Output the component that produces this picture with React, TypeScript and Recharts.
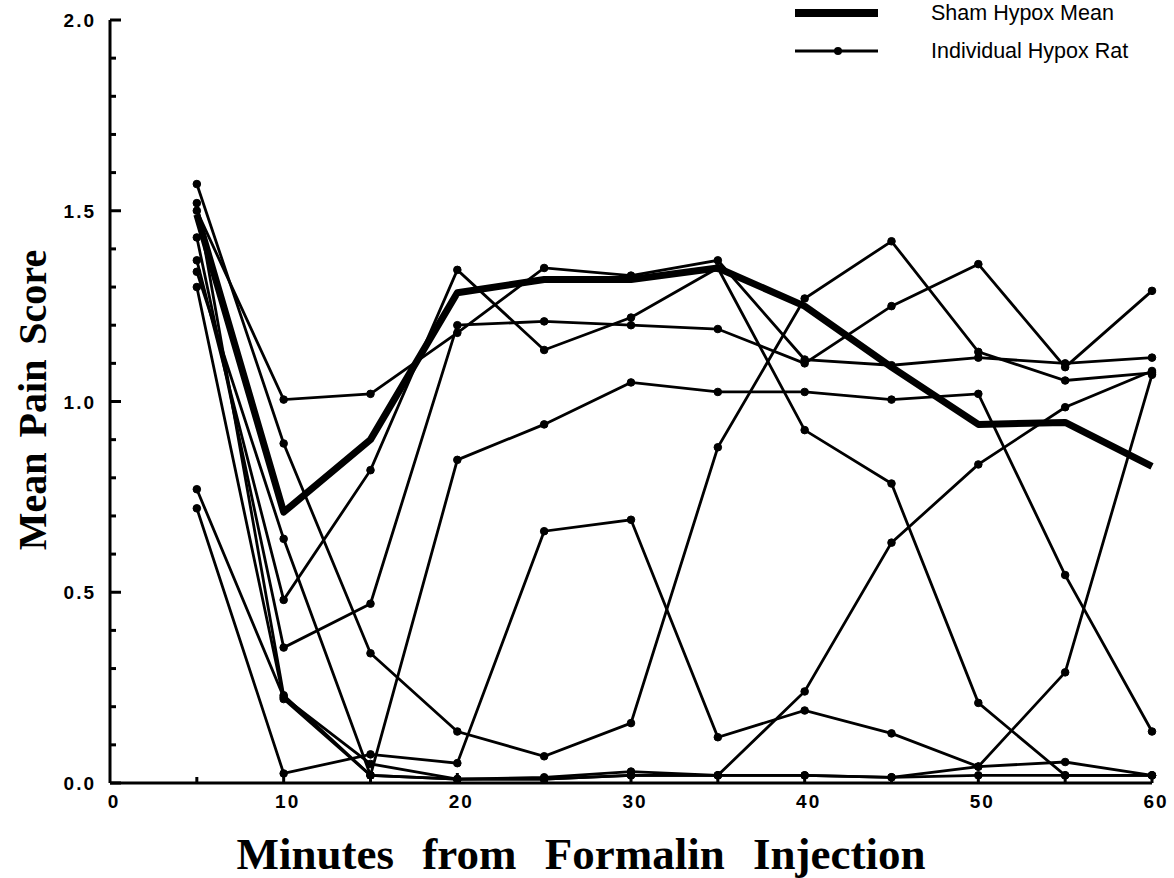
import { LineChart, Line, XAxis, YAxis, Legend } from 'recharts';

// minutes after formalin injection
const minutes = [5, 10, 15, 20, 25, 30, 35, 40, 45, 50, 55, 60];

const shamMean = [1.49, 0.71, 0.9, 1.285, 1.32, 1.32, 1.35, 1.25, 1.09, 0.94, 0.945, 0.83];

// individual hypox rats
const ratA = [1.5, 1.005, 1.02, 1.18, 1.35, 1.33, 1.37, 1.11, 1.095, 1.115, 1.1, 1.115];
const ratB = [1.57, 0.89, 0.34, 0.135, 0.07, 0.157, 0.88, 1.27, 1.42, 1.13, 1.055, 1.075];
const ratC = [1.37, 0.48, 0.82, 1.345, 1.135, 1.22, 1.35, 0.925, 0.785, 0.21, 0.02, 0.02];
const ratD = [1.43, 0.355, 0.47, 1.2, 1.21, 1.2, 1.19, 1.1, 1.25, 1.36, 1.09, 1.29];
const ratE = [1.34, 0.64, 0.02, 0.847, 0.94, 1.05, 1.025, 1.025, 1.005, 1.02, 0.545, 0.135];
const ratF = [0.77, 0.225, 0.05, 0.01, 0.01, 0.02, 0.02, 0.02, 0.015, 0.02, 0.02, 0.02];
const ratG = [0.72, 0.025, 0.075, 0.052, 0.66, 0.69, 0.12, 0.19, 0.13, 0.043, 0.055, 0.02];
const ratH = [1.52, 0.23, 0.02, 0.01, 0.015, 0.03, 0.02, 0.24, 0.63, 0.835, 0.985, 1.08];
const ratI = [1.3, 0.22, 0.02, 0.01, 0.01, 0.02, 0.02, 0.02, 0.015, 0.043, 0.29, 1.07];

const rats = [ratA, ratB, ratC, ratD, ratE, ratF, ratG, ratH, ratI];

const xTicks = [0, 5, 10, 15, 20, 25, 30, 35, 40, 45, 50, 55, 60];
const yTicks = [
  0, 0.1, 0.2, 0.3, 0.4, 0.5, 0.6, 0.7, 0.8, 0.9, 1.0, 1.1, 1.2, 1.3, 1.4, 1.5, 1.6, 1.7, 1.8, 1.9, 2.0,
];

const data = minutes.map((m, i) => {
  const row: Record<string, number> = { minute: m, mean: shamMean[i] };
  rats.forEach((r, k) => {
    row['rat' + k] = r[i];
  });
  return row;
});

const tickFont = {
  fontFamily: '"Liberation Sans", Arial, sans-serif',
  fontWeight: 700,
  fontSize: 19,
  letterSpacing: 2,
};

const YTick = (props: any) => {
  const { x, y, payload } = props;
  const v = payload.value;
  const major = Math.abs(v * 2 - Math.round(v * 2)) < 1e-6;
  const axisX = x + 14;
  return (
    <g>
      <line x1={axisX} x2={axisX + (major ? 11 : 6)} y1={y} y2={y} stroke="#000" strokeWidth={3} />
      {major && (
        <text x={x} y={y + 7} textAnchor="end" fill="#000" style={tickFont}>
          {v.toFixed(1)}
        </text>
      )}
    </g>
  );
};

const XTick = (props: any) => {
  const { x, y, payload } = props;
  const v = payload.value;
  const major = v % 10 === 0;
  return (
    <g>
      {v > 0 && <line x1={x} x2={x} y1={y} y2={y - (major ? 10 : 6)} stroke="#000" strokeWidth={3} />}
      {major && (
        <text x={x + 4} y={y + 25} textAnchor="middle" fill="#000" style={tickFont}>
          {v}
        </text>
      )}
    </g>
  );
};

const legendFont = { fontFamily: '"Liberation Sans", Arial, sans-serif', fontSize: 21.5 };

const renderLegend = () => (
  <svg width={386} height={72}>
    <line x1={7} x2={90} y1={13} y2={13} stroke="#000" strokeWidth={8} />
    <line x1={7} x2={90} y1={51} y2={51} stroke="#000" strokeWidth={2.8} />
    <circle cx={50} cy={51} r={4} fill="#000" />
    <text x={143} y={20} fill="#000" style={legendFont}>
      Sham Hypox Mean
    </text>
    <text x={143} y={58} fill="#000" style={legendFont}>
      Individual Hypox Rat
    </text>
  </svg>
);

const labelFont = {
  fontFamily: '"Liberation Serif", "Times New Roman", serif',
  fontWeight: 700,
};

export default function App() {
  return (
    <div style={{ position: 'absolute', top: 0, left: 0 }}>
      <LineChart width={1174} height={878} data={data} margin={{ top: 20, right: 22, left: 0, bottom: 0 }}>
        <XAxis
          dataKey="minute"
          type="number"
          domain={[0, 60]}
          ticks={xTicks}
          interval={0}
          height={95}
          tickSize={0}
          tickMargin={0}
          tickLine={false}
          tick={<XTick />}
          axisLine={{ stroke: '#000', strokeWidth: 3 }}
          label={{
            content: () => (
              <text x={581} y={869} textAnchor="middle" fill="#000" style={{ ...labelFont, fontSize: 45, wordSpacing: 17 }}>
                Minutes from Formalin Injection
              </text>
            ),
          }}
        />
        <YAxis
          type="number"
          domain={[0, 2]}
          ticks={yTicks}
          interval={0}
          width={110}
          tickSize={0}
          tickMargin={14}
          tickLine={false}
          tick={<YTick />}
          axisLine={{ stroke: '#000', strokeWidth: 3 }}
          label={{
            content: () => (
              <text
                x={0}
                y={0}
                transform="translate(46 400) rotate(-90)"
                textAnchor="middle"
                fill="#000"
                style={{ ...labelFont, fontSize: 40, wordSpacing: 5 }}
              >
                Mean Pain Score
              </text>
            ),
          }}
        />
        <Legend
          layout="horizontal"
          verticalAlign="middle"
          align="center"
          content={renderLegend}
          wrapperStyle={{ top: 0, left: 788, width: 386, height: 72 }}
        />
        {rats.map((_, k) => (
          <Line
            key={k}
            dataKey={'rat' + k}
            stroke="#000"
            strokeWidth={2.8}
            dot={{ r: 3.8, fill: '#000', stroke: '#000', strokeWidth: 1 }}
            isAnimationActive={false}
          />
        ))}
        <Line
          dataKey="mean"
          stroke="#000"
          strokeWidth={7}
          strokeLinejoin="round"
          dot={false}
          isAnimationActive={false}
        />
      </LineChart>
    </div>
  );
}
